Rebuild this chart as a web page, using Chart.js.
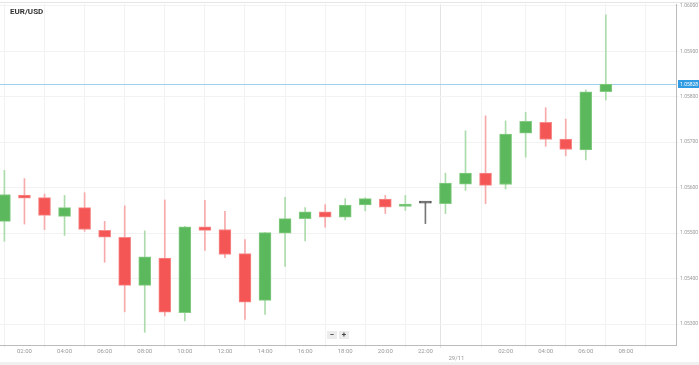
<!DOCTYPE html>
<html>
<head>
<meta charset="utf-8">
<script src="https://cdn.jsdelivr.net/npm/chart.js@4.4.1/dist/chart.umd.min.js"></script>
<style>
  html, body { margin: 0; padding: 0; background: #fff; }
  #wrap { position: relative; width: 699px; height: 365px; overflow: hidden; font-family: Roboto, sans-serif; }
  #wrap canvas { position: absolute; left: 0; top: 0; }
  #topline { position: absolute; left: 0; top: 2px; width: 699px; height: 1px; background: #e6e6e6; }
  #botline { position: absolute; left: 0; top: 362px; width: 699px; height: 3px; background: #f0f0f0; }
  #title { position: absolute; left: 10px; top: 7px; font: bold 8px Roboto, sans-serif; color: #333; }
  #zoom { position: absolute; left: 327px; top: 331px; display: flex; gap: 2px; }
  #zoom span { width: 10px; height: 8px; background: #ececec; font: bold 8px/8px Roboto, sans-serif; text-align: center; color: #444; }
</style>
</head>
<body>
<div id="wrap">
  <div id="topline"></div>
  <canvas id="fxChart" width="699" height="365"></canvas>
  <div id="botline"></div>
  <div id="title">EUR/USD</div>
  <div id="zoom"><span>−</span><span>+</span></div>
</div>

<script>
// hourly candles, hour 1 = 01:00 on 28/11
const hours  = [1,2,3,4,5,6,7,8,9,10,11,12,13,14,15,16,17,18,19,20,21,22,23,24,25,26,27,28,29,30,31];
const opens  = [1.05526,1.05584,1.05578,1.05537,1.05556,1.05506,1.05491,1.05385,1.05445,1.05325,1.05514,1.05508,1.05455,1.05352,1.05500,1.05532,1.05547,1.05535,1.05562,1.05575,1.05559,1.05566,1.05565,1.05608,1.05632,1.05607,1.05720,1.05744,1.05707,1.05683,1.05811];
const closes = [1.05585,1.05577,1.05539,1.05556,1.05508,1.05491,1.05385,1.05448,1.05326,1.05514,1.05506,1.05453,1.05348,1.05501,1.05532,1.05547,1.05535,1.05562,1.05576,1.05557,1.05564,1.05566,1.05610,1.05632,1.05605,1.05718,1.05746,1.05706,1.05684,1.05811,1.05828];
const highs  = [1.05638,1.05620,1.05586,1.05583,1.05589,1.05526,1.05560,1.05505,1.05573,1.05515,1.05572,1.05548,1.05486,1.05502,1.05579,1.05556,1.05563,1.05576,1.05578,1.05583,1.05583,1.05567,1.05632,1.05725,1.05758,1.05747,1.05766,1.05776,1.05751,1.05815,1.05980];
const lows   = [1.05482,1.05520,1.05508,1.05495,1.05504,1.05436,1.05327,1.05282,1.05318,1.05307,1.05462,1.05446,1.05310,1.05321,1.05427,1.05483,1.05513,1.05529,1.05549,1.05543,1.05550,1.05521,1.05543,1.05594,1.05565,1.05597,1.05667,1.05691,1.05670,1.05661,1.05793];

const tickHours  = [2,4,6,8,10,12,14,16,18,20,22,23.55,26,28,30,32];
const tickLabels = ["02:00","04:00","06:00","08:00","10:00","12:00","14:00","16:00","18:00","20:00","22:00","29/11","02:00","04:00","06:00","08:00"];
const dayMark = 23.55;
const yTicks = [1.053,1.054,1.055,1.056,1.057,1.058,1.059,1.060];
const currentPrice = 1.05828;

const UP = "#5cb85c", UP_EDGE = "#84cc84", UP_WICK = "#acdcac";
const DN = "#f45656", DN_EDGE = "#f78a8a", DN_WICK = "#f7aaaa";
const FLAT = "#555", FLAT_WICK = "#777";

function dir(i) {
  if (closes[i] > opens[i]) return 1;
  if (closes[i] < opens[i]) return -1;
  return 0;
}

const priceLine = {
  id: "priceLine",
  beforeDatasetsDraw(chart) {
    const { ctx, chartArea, scales } = chart;
    const y = Math.round(scales.y.getPixelForValue(currentPrice)) + 0.5;
    ctx.save();
    ctx.strokeStyle = "#9fd0ef";
    ctx.lineWidth = 1;
    ctx.beginPath();
    ctx.moveTo(chartArea.left, y);
    ctx.lineTo(chartArea.right, y);
    ctx.stroke();
    ctx.restore();
  },
  afterDraw(chart) {
    const { ctx, chartArea, scales } = chart;
    const y = Math.round(scales.y.getPixelForValue(currentPrice));
    ctx.save();
    ctx.fillStyle = "#2f9be2";
    ctx.fillRect(chartArea.right + 2, y - 4, 22, 8);
    ctx.fillStyle = "#fff";
    ctx.font = "5px Roboto, sans-serif";
    ctx.textBaseline = "middle";
    ctx.fillText(currentPrice.toFixed(5), chartArea.right + 4, y + 0.5);
    ctx.restore();
  }
};

const ctx = document.getElementById("fxChart").getContext("2d");

new Chart(ctx, {
  type: "bar",
  data: {
    datasets: [
      {
        label: "wick",
        data: hours.map((h, i) => ({ x: h, y: [lows[i], highs[i]] })),
        backgroundColor: hours.map((h, i) => dir(i) > 0 ? UP_WICK : dir(i) < 0 ? DN_WICK : FLAT_WICK),
        borderWidth: 0,
        barThickness: 1,
        grouped: false,
        order: 2
      },
      {
        label: "body",
        data: hours.map((h, i) => ({ x: h, y: [opens[i], closes[i]] })),
        backgroundColor: hours.map((h, i) => dir(i) > 0 ? UP : dir(i) < 0 ? DN : FLAT),
        borderColor: hours.map((h, i) => dir(i) > 0 ? UP_EDGE : dir(i) < 0 ? DN_EDGE : FLAT),
        borderWidth: 1,
        borderSkipped: false,
        barThickness: 12,
        minBarLength: 2,
        grouped: false,
        order: 1
      }
    ]
  },
  options: {
    responsive: false,
    animation: false,
    layout: { padding: { top: 3, left: 0, right: 0, bottom: 0 } },
    plugins: {
      legend: { display: false },
      tooltip: { enabled: false }
    },
    scales: {
      x: {
        type: "linear",
        min: 0.78,
        max: 34.5,
        offset: false,
        afterBuildTicks: s => { s.ticks = tickHours.map(v => ({ value: v })); },
        afterFit: s => { s.height = 20; },
        ticks: {
          autoSkip: false,
          maxRotation: 0,
          padding: 0,
          color: "#999",
          font: { family: "Roboto", size: 6 },
          callback: (v) => {
            const lbl = tickLabels[tickHours.indexOf(v)];
            return v === dayMark ? ["", lbl] : lbl;
          }
        },
        grid: {
          color: c => (c.tick && c.tick.value === dayMark) ? "#e4e4e4" : "#f2f2f2",
          tickLength: 3
        },
        border: { color: "#bbb" }
      },
      y: {
        position: "right",
        min: 1.05254,
        max: 1.06004,
        afterBuildTicks: s => { s.ticks = yTicks.map(v => ({ value: v })); },
        afterFit: s => { s.width = 23; },
        ticks: {
          padding: 1,
          color: "#999",
          font: { family: "Roboto", size: 5 },
          callback: v => v.toFixed(5)
        },
        grid: { color: "#f2f2f2", tickLength: 3 },
        border: { color: "#bbb" }
      }
    }
  },
  plugins: [priceLine]
});
</script>
</body>
</html>
